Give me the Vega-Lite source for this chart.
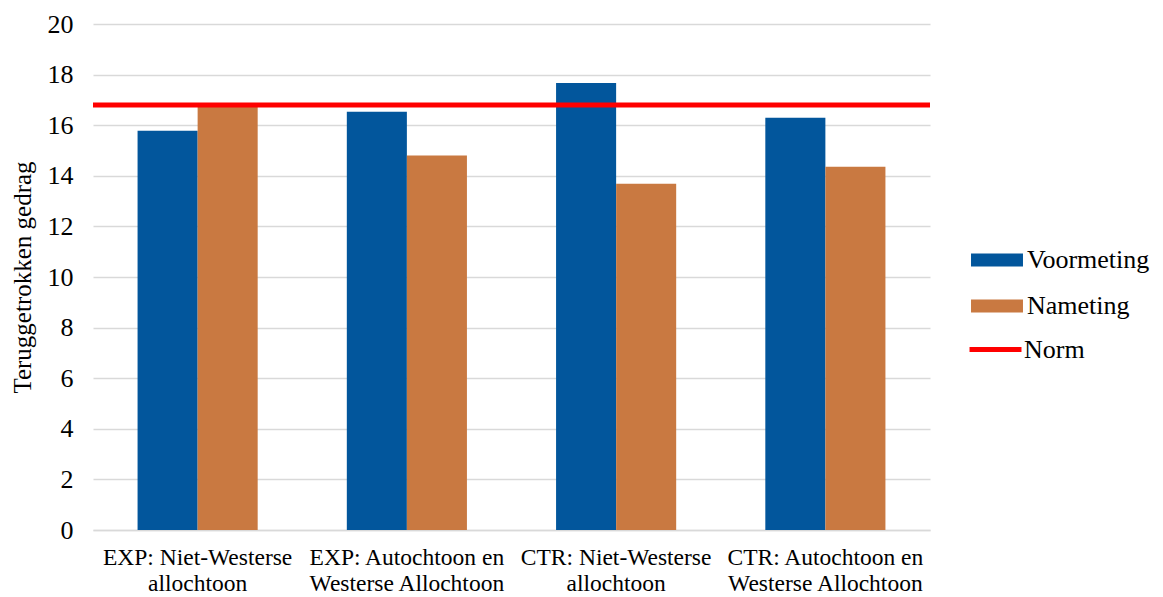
{
  "$schema": "https://vega.github.io/schema/vega-lite/v6.json",
  "width": 837,
  "height": 506,
  "autosize": "none",
  "padding": {"left": 93, "top": 24, "right": 233, "bottom": 67},
  "background": "white",
  "config": {
    "font": "Liberation Serif",
    "view": {"stroke": null},
    "axis": {"labelFont": "Liberation Serif", "titleFont": "Liberation Serif", "labelColor": "#000000", "titleColor": "#000000"}
  },
  "datasets": {
    "scores": [
      {"groep": "EXP: Niet-Westerse allochtoon", "meting": "Voormeting", "score": 15.78},
      {"groep": "EXP: Niet-Westerse allochtoon", "meting": "Nameting", "score": 16.87},
      {"groep": "EXP: Autochtoon en Westerse Allochtoon", "meting": "Voormeting", "score": 16.53},
      {"groep": "EXP: Autochtoon en Westerse Allochtoon", "meting": "Nameting", "score": 14.8},
      {"groep": "CTR: Niet-Westerse allochtoon", "meting": "Voormeting", "score": 17.67},
      {"groep": "CTR: Niet-Westerse allochtoon", "meting": "Nameting", "score": 13.69},
      {"groep": "CTR: Autochtoon en Westerse Allochtoon", "meting": "Voormeting", "score": 16.29},
      {"groep": "CTR: Autochtoon en Westerse Allochtoon", "meting": "Nameting", "score": 14.36}
    ],
    "norm": [{"reeks": "Norm", "score": 16.8}]
  },
  "layer": [
    {
      "data": {"name": "scores"},
      "mark": {"type": "bar"},
      "encoding": {
        "x": {
          "field": "groep",
          "type": "nominal",
          "sort": null,
          "scale": {"paddingInner": 0.426, "paddingOuter": 0.213},
          "axis": {
            "title": null,
            "labelAngle": 0,
            "labelFontSize": 23.5,
            "labelLineHeight": 26,
            "labelPadding": 15,
            "labelLimit": 0,
            "ticks": false,
            "domainColor": "#d9d9d9",
            "domainWidth": 1.5,
            "labelExpr": "datum.value == 'EXP: Niet-Westerse allochtoon' ? ['EXP: Niet-Westerse', 'allochtoon'] : datum.value == 'EXP: Autochtoon en Westerse Allochtoon' ? ['EXP: Autochtoon en', 'Westerse Allochtoon'] : datum.value == 'CTR: Niet-Westerse allochtoon' ? ['CTR: Niet-Westerse', 'allochtoon'] : ['CTR: Autochtoon en', 'Westerse Allochtoon']"
          }
        },
        "xOffset": {"field": "meting", "type": "nominal", "sort": ["Voormeting", "Nameting"], "scale": {"padding": 0}},
        "y": {
          "field": "score",
          "type": "quantitative",
          "scale": {"domain": [0, 20], "nice": false},
          "axis": {
            "title": "Teruggetrokken gedrag",
            "titleFontSize": 25,
            "titleFontWeight": "normal",
            "titlePadding": 12,
            "values": [0, 2, 4, 6, 8, 10, 12, 14, 16, 18, 20],
            "labelFontSize": 26,
            "labelPadding": 20,
            "ticks": false,
            "domain": false,
            "gridColor": "#d9d9d9",
            "gridWidth": 1.5
          }
        },
        "fill": {
          "field": "meting",
          "type": "nominal",
          "sort": ["Voormeting", "Nameting"],
          "scale": {"domain": ["Voormeting", "Nameting"], "range": ["#02569c", "#c97941"]},
          "legend": {
            "title": null,
            "orient": "none",
            "legendX": 878,
            "legendY": 210,
            "symbolType": "M-1,-0.25H1V0.25H-1Z",
            "symbolSize": 2700,
            "symbolStrokeWidth": 0,
            "labelFontSize": 26,
            "labelFont": "Liberation Serif",
            "labelColor": "#000000",
            "rowPadding": 7,
            "labelOffset": 4
          }
        }
      }
    },
    {
      "data": {"name": "norm"},
      "mark": {"type": "rule", "strokeWidth": 5},
      "encoding": {
        "y": {"field": "score", "type": "quantitative"},
        "stroke": {
          "field": "reeks",
          "type": "nominal",
          "scale": {"domain": ["Norm"], "range": ["#ff0000"]},
          "legend": {
            "title": null,
            "orient": "none",
            "legendX": 874,
            "legendY": 297,
            "symbolType": "stroke",
            "symbolSize": 2700,
            "symbolStrokeWidth": 5,
            "labelFontSize": 26,
            "labelFont": "Liberation Serif",
            "labelColor": "#000000",
            "labelOffset": 0
          }
        }
      }
    }
  ],
  "resolve": {"legend": {"fill": "independent"}}
}
